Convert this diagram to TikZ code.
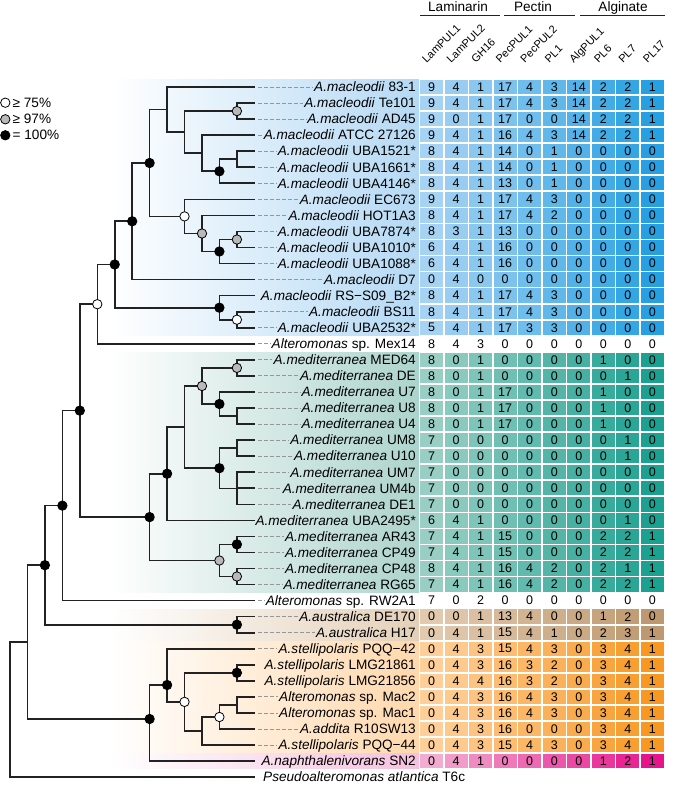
\documentclass[tikz,border=0pt]{standalone}
\usepackage{fontspec}
\setmainfont{Liberation Sans}
\usetikzlibrary{calc}

\definecolor{macL}{RGB}{166,211,243}
\definecolor{macD}{RGB}{38,160,226}
\definecolor{medL}{RGB}{152,206,196}
\definecolor{medD}{RGB}{28,160,144}
\definecolor{ausL}{RGB}{226,202,174}
\definecolor{ausD}{RGB}{190,152,112}
\definecolor{steL}{RGB}{255,207,154}
\definecolor{steD}{RGB}{247,152,36}
\definecolor{napL}{RGB}{242,172,208}
\definecolor{napD}{RGB}{230,20,140}
\definecolor{nonL}{RGB}{255,255,255}
\definecolor{nonD}{RGB}{255,255,255}
\definecolor{macband}{RGB}{180,217,244}
\definecolor{medband}{RGB}{172,212,204}
\definecolor{ausband}{RGB}{228,208,184}
\definecolor{steband}{RGB}{255,216,172}
\definecolor{napband}{RGB}{246,192,222}
\definecolor{branchc}{RGB}{34,34,34}
\definecolor{leaderc}{RGB}{150,150,150}
\definecolor{bootgray}{RGB}{185,185,185}

\newcommand{\Amac}{\textit{A.macleodii}}
\newcommand{\Amed}{\textit{A.mediterranea}}
\newcommand{\Aste}{\textit{A.stellipolaris}}
\newcommand{\Alt}{\textit{Alteromonas}}

\tikzset{
  branch/.style={draw=branchc, line width=1.6pt},
  leader/.style={draw=leaderc, line width=0.9pt, dash pattern=on 3.5pt off 2.5pt, shorten <=3pt},
  taxon/.style={anchor=base east, inner sep=1pt, font=\fontsize{13.6}{16}\selectfont},
  cell/.style={minimum width=23pt, minimum height=14.4pt, inner sep=0pt, font=\fontsize{12.5}{15}\selectfont},
  colhead/.style={anchor=base west, rotate=45, inner sep=0pt, font=\fontsize{11}{13}\selectfont},
  grouphead/.style={anchor=base, inner sep=0pt, font=\fontsize{13.6}{16}\selectfont},
  keytext/.style={anchor=west, inner sep=1pt, font=\fontsize{13.6}{16}\selectfont},
  boot/.style={circle, draw=black, line width=0.8pt, minimum size=9.4pt, inner sep=0pt},
  boot75/.style={boot, fill=white},
  boot97/.style={boot, fill=bootgray},
  boot100/.style={boot, fill=black},
}

\begin{document}
\begin{tikzpicture}[x=1pt,y=-1pt]
\useasboundingbox (0,0) rectangle (680,786);

% clade bands
\shade[left color=white, right color=macband] (110,79.5) rectangle (419,335.2);
\shade[left color=white, right color=medband] (110,352.4) rectangle (419,592);
\shade[left color=white, right color=ausband] (110,609.2) rectangle (419,640.2);
\shade[left color=white, right color=steband] (110,641.3) rectangle (419,752.5);
\shade[left color=white, right color=napband] (110,753.6) rectangle (419,768.6);

% leaf tips
\foreach \r in {1,...,44}
  \coordinate (t\r) at (255,{87+(\r-1)*16.05});

% inner nodes
\coordinate (mA) at (236.9,111.1);
\coordinate (mB) at (236.9,159.2);
\coordinate (mC) at (219.4,171.3);
\coordinate (mD) at (202,153.2);
\coordinate (mE) at (184.5,132.2);
\coordinate (mF) at (167.1,109.6);
\coordinate (mG) at (236.9,239.5);
\coordinate (mH) at (219.4,251.5);
\coordinate (mI) at (202,233.5);
\coordinate (mJ) at (184.5,216.4);
\coordinate (mK) at (149.6,163);
\coordinate (mL) at (132.2,221.3);
\coordinate (mM) at (236.9,319.7);
\coordinate (mN) at (219.4,307.7);
\coordinate (mO) at (114.7,264.5);
\coordinate (mP) at (97.3,304.2);
\coordinate (dA) at (236.9,367.9);
\coordinate (dB) at (236.9,416);
\coordinate (dC) at (219.4,404);
\coordinate (dD) at (202,386);
\coordinate (dE) at (236.9,448.1);
\coordinate (dF) at (236.9,488.3);
\coordinate (dG) at (219.4,468.2);
\coordinate (dH) at (184.5,427.1);
\coordinate (dI) at (167.1,473.7);
\coordinate (dJ) at (236.9,544.4);
\coordinate (dK) at (236.9,576.5);
\coordinate (dL) at (219.4,560.5);
\coordinate (dM) at (149.6,517.1);
\coordinate (rA) at (79.8,410.6);
\coordinate (rB) at (62.4,505.6);
\coordinate (aA) at (236.9,624.7);
\coordinate (rC) at (44.9,565.2);
\coordinate (sA) at (236.9,672.8);
\coordinate (sB) at (236.9,704.9);
\coordinate (sC) at (219.4,717);
\coordinate (sD) at (202,731);
\coordinate (sE) at (184.5,701.9);
\coordinate (sF) at (167.1,685);
\coordinate (sG) at (149.6,719);
\coordinate (rD) at (27.5,642);
\coordinate (root) at (10,710);

% branches
\foreach \p/\c in {mF/t1, mF/mE, mE/mA, mE/mD, mA/t2, mA/t3, mD/t4, mD/mC,
    mC/mB, mC/t7, mB/t5, mB/t6, mK/mF, mK/mJ, mJ/t8, mJ/mI, mI/t9, mI/mH,
    mH/mG, mH/t12, mG/t10, mG/t11, mL/mK, mL/t13, mO/mL, mO/mN, mN/t14, mN/mM,
    mM/t15, mM/t16, mP/mO, mP/t17, rA/mP, rA/dM, dM/dI, dM/dL, dI/dH, dI/t28,
    dH/dD, dH/dG, dD/dA, dD/dC, dA/t18, dA/t19, dC/t20, dC/dB, dB/t21, dB/t22,
    dG/dE, dG/dF, dE/t23, dE/t24, dF/t25, dF/t26, dF/t27, dL/dJ, dL/dK,
    dJ/t29, dJ/t30, dK/t31, dK/t32, rB/rA, rB/t33, rC/rB, rC/aA, aA/t34, aA/t35,
    rD/rC, rD/sG, sG/sF, sG/t43, sF/t36, sF/sE, sE/sA, sE/sD, sA/t37, sA/t38,
    sD/sC, sD/t42, sC/sB, sC/t41, sB/t39, sB/t40, root/rD, root/t44}
  \draw[branch] (\p) |- (\c);

% support values
\foreach \n in {mC, mH, mK, mL, mN, mO, dC, dG, dI, dJ, dM, rA, rB, aA, rC, sA, sF, sG}
  \node[boot100] (\n b) at (\n) {};
\foreach \n in {mA, mG, mI, dA, dD, dK, dL}
  \node[boot97] (\n b) at (\n) {};
\foreach \n in {mJ, mM, mP, sC, sE}
  \node[boot75] (\n b) at (\n) {};

% taxa
\foreach \r/\txt in {1/{\Amac{} 83-1}, 2/{\Amac{} Te101}, 3/{\Amac{} AD45},
    4/{\Amac{} ATCC 27126}, 5/{\Amac{} UBA1521*}, 6/{\Amac{} UBA1661*},
    7/{\Amac{} UBA4146*}, 8/{\Amac{} EC673}, 9/{\Amac{} HOT1A3},
    10/{\Amac{} UBA7874*}, 11/{\Amac{} UBA1010*}, 12/{\Amac{} UBA1088*},
    13/{\Amac{} D7}, 14/{\Amac{} RS−S09\_B2*}, 15/{\Amac{} BS11},
    16/{\Amac{} UBA2532*}, 17/{\Alt{} sp. Mex14}, 18/{\Amed{} MED64},
    19/{\Amed{} DE}, 20/{\Amed{} U7}, 21/{\Amed{} U8}, 22/{\Amed{} U4},
    23/{\Amed{} UM8}, 24/{\Amed{} U10}, 25/{\Amed{} UM7}, 26/{\Amed{} UM4b},
    27/{\Amed{} DE1}, 28/{\Amed{} UBA2495*}, 29/{\Amed{} AR43},
    30/{\Amed{} CP49}, 31/{\Amed{} CP48}, 32/{\Amed{} RG65},
    33/{\Alt{} sp. RW2A1}, 34/{\textit{A.australica} DE170},
    35/{\textit{A.australica} H17}, 36/{\Aste{} PQQ−42},
    37/{\Aste{} LMG21861}, 38/{\Aste{} LMG21856}, 39/{\Alt{} sp. Mac2},
    40/{\Alt{} sp. Mac1}, 41/{\textit{A.addita} R10SW13}, 42/{\Aste{} PQQ−44},
    43/{\textit{A.naphthalenivorans} SN2}}
  \node[taxon] (n\r) at (417,{91.8+(\r-1)*16.05}) {\txt};
\node[taxon, anchor=base west] (n44) at (262,{91.8+43*16.05}) {\textit{Pseudoalteromonas atlantica} T6c};

\foreach \r in {1,2,3,4,5,6,7,8,9,10,11,12,13,15,16,17,18,19,20,21,22,23,24,25,26,27,
    29,30,31,32,33,34,35,36,39,40,41,42}
  \draw[leader] (t\r) -- (t\r -| n\r.west);

% gene counts
\foreach \r/\g/\vals in {
    1/mac/{9,4,1,17,4,3,14,2,2,1}, 2/mac/{9,4,1,17,4,3,14,2,2,1},
    3/mac/{9,0,1,17,0,0,14,2,2,1}, 4/mac/{9,4,1,16,4,3,14,2,2,1},
    5/mac/{8,4,1,14,0,1,0,0,0,0}, 6/mac/{8,4,1,14,0,1,0,0,0,0},
    7/mac/{8,4,1,13,0,1,0,0,0,0}, 8/mac/{9,4,1,17,4,3,0,0,0,0},
    9/mac/{8,4,1,17,4,2,0,0,0,0}, 10/mac/{8,3,1,13,0,0,0,0,0,0},
    11/mac/{6,4,1,16,0,0,0,0,0,0}, 12/mac/{6,4,1,16,0,0,0,0,0,0},
    13/mac/{0,4,0,0,0,0,0,0,0,0}, 14/mac/{8,4,1,17,4,3,0,0,0,0},
    15/mac/{8,4,1,17,4,3,0,0,0,0}, 16/mac/{5,4,1,17,3,3,0,0,0,0},
    17/non/{8,4,3,0,0,0,0,0,0,0}, 18/med/{8,0,1,0,0,0,0,1,0,0},
    19/med/{8,0,1,0,0,0,0,0,1,0}, 20/med/{8,0,1,17,0,0,0,1,0,0},
    21/med/{8,0,1,17,0,0,0,1,0,0}, 22/med/{8,0,1,17,0,0,0,1,0,0},
    23/med/{7,0,0,0,0,0,0,0,1,0}, 24/med/{7,0,0,0,0,0,0,0,1,0},
    25/med/{7,0,0,0,0,0,0,0,0,0}, 26/med/{7,0,0,0,0,0,0,0,0,0},
    27/med/{7,0,0,0,0,0,0,0,0,0}, 28/med/{6,4,1,0,0,0,0,0,1,0},
    29/med/{7,4,1,15,0,0,0,2,2,1}, 30/med/{7,4,1,15,0,0,0,2,2,1},
    31/med/{8,4,1,16,4,2,0,2,1,1}, 32/med/{7,4,1,16,4,2,0,2,2,1},
    33/non/{7,0,2,0,0,0,0,0,0,0}, 34/aus/{0,0,1,13,4,0,0,1,2,0},
    35/aus/{0,4,1,15,4,1,0,2,3,1}, 36/ste/{0,4,3,15,4,3,0,3,4,1},
    37/ste/{0,4,3,16,3,2,0,3,4,1}, 38/ste/{0,4,4,16,3,2,0,3,4,1},
    39/ste/{0,4,3,16,4,3,0,3,4,1}, 40/ste/{0,4,3,16,4,3,0,3,4,1},
    41/ste/{0,4,3,16,0,0,0,3,4,1}, 42/ste/{0,4,3,15,4,3,0,3,4,1},
    43/nap/{0,4,1,0,0,0,0,1,2,1}}
{
  \foreach \v [count=\c] in \vals {
    \pgfmathtruncatemacro\p{(\c-1)*100/9}
    \node[cell, fill=\g D!\p!\g L] (c\r-\c) at ({431.5+(\c-1)*24.55},{87+(\r-1)*16.05}) {\v};
  }
}

% column heads
\foreach \h [count=\c] in {LamPUL1,LamPUL2,GH16,PecPUL1,PecPUL2,PL1,AlgPUL1,PL6,PL7,PL17}
  \node[colhead] (h\c) at ({426.5+(\c-1)*24.55},63.5) {\h};

\node[grouphead] (lam) at (458,11.7) {Laminarin};
\node[grouphead] (pec) at (533,11.7) {Pectin};
\node[grouphead] (alg) at (623,11.7) {Alginate};
\coordinate (lamL) at (420,15.5);
\coordinate (lamR) at (500,15.5);
\coordinate (pecL) at (504,15.5);
\coordinate (pecR) at (575,15.5);
\coordinate (algL) at (580,15.5);
\coordinate (algR) at (665,15.5);
\draw[line width=1.2pt, draw=branchc] (lamL) -- (lamR);
\draw[line width=1.2pt, draw=branchc] (pecL) -- (pecR);
\draw[line width=1.2pt, draw=branchc] (algL) -- (algR);

% key
\node[boot75] (k75) at (5.3,102.7) {};
\node[boot97] (k97) at (5.3,119.3) {};
\node[boot100] (k100) at (5.3,135.3) {};
\node[keytext] (k75t) at (11.5,102.7) {≥ 75\%};
\node[keytext] (k97t) at (11.5,119.3) {≥ 97\%};
\node[keytext] (k100t) at (11.5,135.3) {= 100\%};

\end{tikzpicture}
\end{document}
